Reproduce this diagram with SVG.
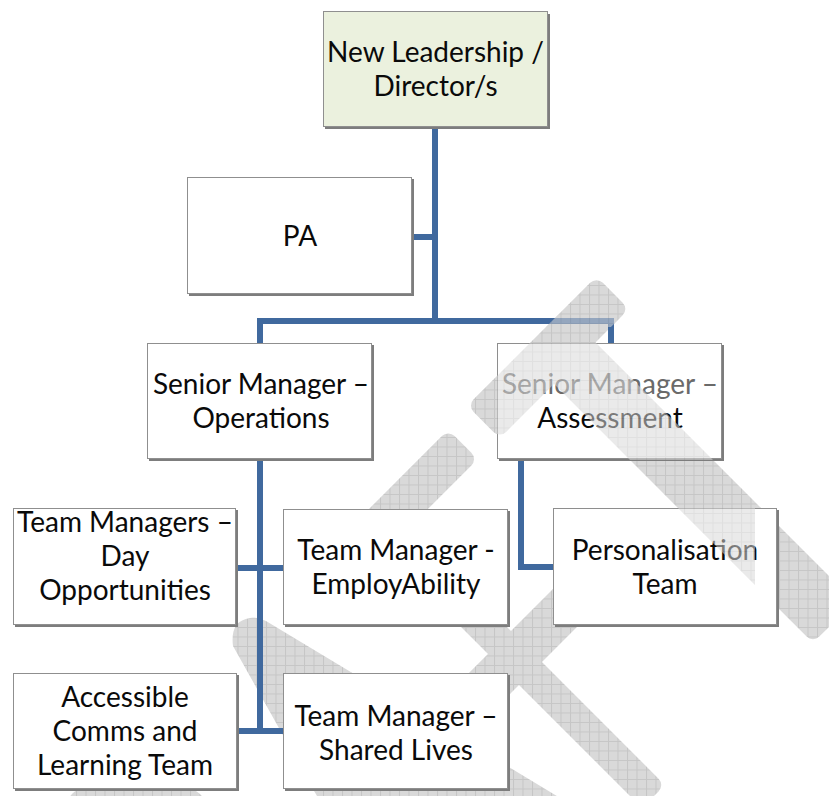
<svg xmlns="http://www.w3.org/2000/svg" width="829" height="796" viewBox="0 0 829 796">
  <style>
    .box { fill: #ffffff; stroke: #8f8f8f; stroke-width: 1; }
    .box-top { fill: #ebf1de; stroke: #8f8f8f; stroke-width: 1; }
    .shadow { fill: #7d7d7d; }
    .label { font-family: Lato, "Liberation Sans", sans-serif; font-size: 28px; fill: #0a0a0a; text-anchor: middle; }
    .label-grey { fill: #6a6a6a; }
    .link { fill: none; stroke: #40699e; stroke-width: 6; stroke-linecap: butt; stroke-linejoin: miter; }
  </style>
  <defs>
    <!-- light grey grid used by the background mark -->
    <pattern id="grid" width="9.5" height="9.5" patternUnits="userSpaceOnUse">
      <rect width="9.5" height="9.5" fill="#d9d9d9"/>
      <path d="M0,0.5H9.5M0.5,0V9.5" stroke="#c6c6c6" stroke-width="1"/>
    </pattern>
    <!-- same grid, turned back so it stays square inside the rotated band group -->
    <pattern id="gridRot" width="9.5" height="9.5" patternUnits="userSpaceOnUse" patternTransform="rotate(45)">
      <rect width="9.5" height="9.5" fill="#d9d9d9"/>
      <path d="M0,0.5H9.5M0.5,0V9.5" stroke="#c6c6c6" stroke-width="1"/>
    </pattern>
    <!-- diagonal bands of the mark, in a frame turned by -45 degrees -->
    <rect id="bandA" x="43.5" y="617.3" width="182.8" height="46" rx="9"/>
    <rect id="bandB" x="120.2" y="639.9" width="58.7" height="389.6" rx="9"/>
    <rect id="bandC" x="-198" y="620.8" width="211.1" height="41.7" rx="9"/>
    <rect id="bandD" x="-183.8" y="807.5" width="254.6" height="43.8" rx="9"/>
    <rect id="bandE" x="-117.4" y="707.1" width="32.5" height="318.2" rx="9"/>
    <clipPath id="frontClip">
      <rect x="497" y="343" width="226" height="117"/>
      <rect x="540" y="315" width="80" height="12"/>
      <rect x="553" y="508" width="202" height="79"/>
    </clipPath>
  </defs>

  <rect width="829" height="796" fill="#ffffff"/>

  <!-- background mark -->
  <g id="mark-back">
    <g transform="rotate(-45)" fill="url(#gridRot)">
      <use href="#bandA"/>
      <use href="#bandB"/>
      <use href="#bandC"/>
      <use href="#bandD"/>
      <use href="#bandE"/>
    </g>
    <path d="M233,646 C231,630 236,620 250,618 C256,617 260,618 266,621 L640,846 L345,846 Z" fill="url(#grid)"/>
    <path d="M68,800 C75,784 100,781 135,781 C170,781 195,784 205,800 Z" fill="url(#grid)"/>
  </g>

  <!-- connectors -->
  <g id="connectors">
    <path class="link" d="M435,127 V321"/>
    <path class="link" d="M260,343 V321 H611 V343"/>
    <path class="link" d="M412,237 H435"/>
    <path class="link" d="M260,459 V731"/>
    <path class="link" d="M236,568 H283"/>
    <path class="link" d="M237,731 H283"/>
    <path class="link" d="M521,459 V567 H553"/>
  </g>

  <!-- nodes -->
  <g id="node-leadership">
    <rect class="shadow" x="325" y="14" width="225" height="115"/>
    <rect class="box-top" x="323.5" y="11.5" width="224" height="115"/>
    <text class="label" x="435.5" y="62">New Leadership /</text>
    <text class="label" x="435.5" y="96">Director/s</text>
  </g>

  <g id="node-pa">
    <rect class="shadow" x="189" y="179" width="225" height="117"/>
    <rect class="box" x="187.5" y="177.5" width="224" height="116"/>
    <text class="label" x="300" y="246">PA</text>
  </g>

  <g id="node-operations">
    <rect class="shadow" x="149" y="345" width="225" height="116"/>
    <rect class="box" x="147.5" y="343.5" width="224" height="115"/>
    <text class="label" x="261" y="394">Senior Manager –</text>
    <text class="label" x="261" y="428">Operations</text>
  </g>

  <g id="node-assessment">
    <rect class="shadow" x="499" y="345" width="225" height="116"/>
    <rect class="box" x="497.5" y="343.5" width="224" height="115"/>
    <text class="label label-grey" x="610" y="394">Senior Manager –</text>
    <text class="label" x="610" y="428">Assessment</text>
  </g>

  <g id="node-day-opportunities">
    <rect class="shadow" x="15" y="510" width="223" height="117"/>
    <rect class="box" x="13.5" y="508.5" width="222" height="116"/>
    <text class="label" x="125" y="532">Team Managers –</text>
    <text class="label" x="125" y="566">Day</text>
    <text class="label" x="125" y="600">Opportunities</text>
  </g>

  <g id="node-employability">
    <rect class="shadow" x="285" y="511" width="225" height="116"/>
    <rect class="box" x="283.5" y="509.5" width="224" height="115"/>
    <text class="label" x="396" y="560">Team Manager -</text>
    <text class="label" x="396" y="594">EmployAbility</text>
  </g>

  <g id="node-personalisation">
    <rect class="shadow" x="555" y="510" width="224" height="117"/>
    <rect class="box" x="553.5" y="508.5" width="223" height="116"/>
    <text class="label" x="665" y="560">Personalisation</text>
    <text class="label" x="665" y="594">Team</text>
  </g>

  <g id="node-accessible-comms">
    <rect class="shadow" x="15" y="675" width="224" height="116"/>
    <rect class="box" x="13.5" y="673.5" width="223" height="115"/>
    <text class="label" x="125" y="707">Accessible</text>
    <text class="label" x="125" y="741">Comms and</text>
    <text class="label" x="125" y="775">Learning Team</text>
  </g>

  <g id="node-shared-lives">
    <rect class="shadow" x="285" y="675" width="225" height="116"/>
    <rect class="box" x="283.5" y="673.5" width="224" height="115"/>
    <text class="label" x="396" y="726">Team Manager –</text>
    <text class="label" x="396" y="760">Shared Lives</text>
  </g>

  <!-- parts of the mark that sit over the right-hand boxes -->
  <g id="mark-front" clip-path="url(#frontClip)" opacity="0.55">
    <g transform="rotate(-45)" fill="url(#gridRot)">
      <use href="#bandA"/>
      <use href="#bandB"/>
    </g>
  </g>
</svg>
